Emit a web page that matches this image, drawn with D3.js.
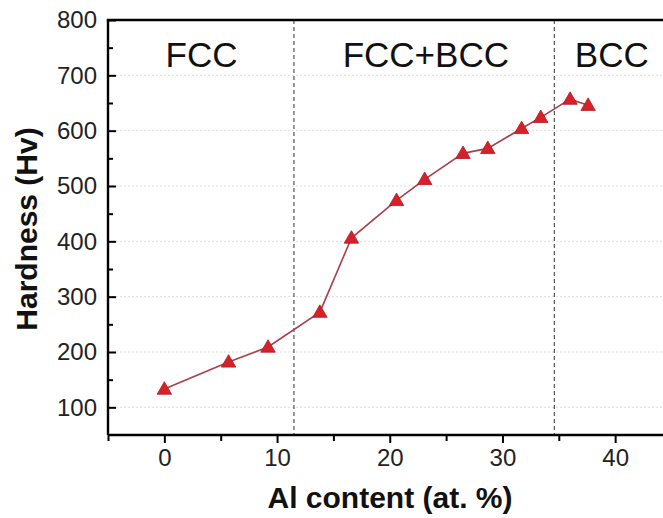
<!DOCTYPE html>
<html>
<head>
<meta charset="utf-8">
<script src="https://cdn.jsdelivr.net/npm/d3@7"></script>
<style>
  html, body { margin: 0; padding: 0; background: #fff; }
  svg { display: block; font-family: "Liberation Sans", Arial, sans-serif; }
</style>
</head>
<body>
<svg id="chart" width="663" height="518"></svg>
<script>
// ---- data ----
const alContent = [0, 5.7, 9.2, 13.8, 16.6, 20.6, 23.1, 26.5, 28.7, 31.7, 33.4, 36.0, 37.6];
const hardness  = [133, 182, 209, 272, 406, 474, 512, 559, 568, 604, 624, 657, 646];
const xMajorTicks = [0, 10, 20, 30, 40];
const xMinorTicks = [-5, 5, 15, 25, 35, 45];
const yMajorTicks = [100, 200, 300, 400, 500, 600, 700, 800];
const yMinorTicks = [150, 250, 350, 450, 550, 650, 750];
const phaseBoundaries = [11.5, 34.6];
const phaseLabels = ["FCC", "FCC+BCC", "BCC"];
const phaseLabelX = [3.3, 23.2, 39.7];
const xTitle = "Al content (at. %)";
const yTitle = "Hardness (Hv)";

// ---- layout ----
const svg = d3.select("#chart");
const mLeft = 108, mRight = 671.5, mTop = 20, mBottom = 435;
const x = d3.scaleLinear().domain([-5, 45]).range([mLeft, mRight]);
const y = d3.scaleLinear().domain([50, 800]).range([mBottom, mTop]);

// grid lines (faint dotted)
svg.append("g").selectAll("line")
  .data(yMajorTicks.filter(v => v < 800))
  .join("line")
  .attr("x1", mLeft).attr("x2", mRight)
  .attr("y1", d => y(d)).attr("y2", d => y(d))
  .attr("stroke", "#dcdcdc").attr("stroke-width", 1)
  .attr("stroke-dasharray", "2,2");

// phase boundaries
svg.append("g").selectAll("line")
  .data(phaseBoundaries)
  .join("line")
  .attr("x1", d => x(d)).attr("x2", d => x(d))
  .attr("y1", mTop).attr("y2", mBottom)
  .attr("stroke", "#333").attr("stroke-width", 1)
  .attr("stroke-dasharray", "4,3");

// phase labels
svg.append("g").selectAll("text")
  .data(phaseLabels)
  .join("text")
  .attr("x", (d, i) => x(phaseLabelX[i]))
  .attr("y", 67)
  .attr("text-anchor", "middle")
  .attr("font-size", 35)
  .attr("fill", "#111")
  .text(d => d);

// data line
const pts = alContent.map((v, i) => [v, hardness[i]]);
svg.append("path")
  .datum(pts)
  .attr("fill", "none")
  .attr("stroke", "#a8404c")
  .attr("stroke-width", 1.6)
  .attr("d", d3.line().x(d => x(d[0])).y(d => y(d[1])));

// markers
svg.append("g").selectAll("path")
  .data(pts)
  .join("path")
  .attr("transform", d => `translate(${x(d[0])},${y(d[1]) + 1})`)
  .attr("d", d3.symbol().type(d3.symbolTriangle).size(90))
  .attr("fill", "#d7202a")
  .attr("stroke", "#b01820")
  .attr("stroke-width", 0.8);

// x axis
const xAxis = svg.append("g").attr("transform", `translate(0,${mBottom})`)
  .call(d3.axisBottom(x).tickValues(xMajorTicks).tickSize(8).tickPadding(6).tickFormat(d3.format("d")));
xAxis.select(".domain").attr("stroke-width", 2.4).attr("d", `M${mLeft},0H${mRight}`);
xAxis.selectAll(".tick line").attr("stroke-width", 2);
xAxis.selectAll(".tick text").attr("font-size", 24).attr("fill", "#222");
svg.append("g").attr("transform", `translate(0,${mBottom})`)
  .call(d3.axisBottom(x).tickValues(xMinorTicks).tickSize(6).tickFormat(""))
  .call(g => g.select(".domain").remove())
  .selectAll(".tick line").attr("stroke-width", 2);

// y axis
const yAxis = svg.append("g").attr("transform", `translate(${mLeft},0)`)
  .call(d3.axisLeft(y).tickValues(yMajorTicks).tickSize(-8).tickPadding(11).tickFormat(d3.format("d")));
yAxis.select(".domain").attr("stroke-width", 2.4).attr("d", `M0,${mBottom}V${mTop}`);
yAxis.selectAll(".tick line").attr("stroke-width", 2);
yAxis.selectAll(".tick text").attr("font-size", 24).attr("fill", "#222");
svg.append("g").attr("transform", `translate(${mLeft},0)`)
  .call(d3.axisLeft(y).tickValues(yMinorTicks).tickSize(-5).tickFormat(""))
  .call(g => g.select(".domain").remove())
  .selectAll(".tick line").attr("stroke-width", 2);

// top frame
svg.append("line")
  .attr("x1", mLeft - 1.2).attr("x2", mRight)
  .attr("y1", mTop).attr("y2", mTop)
  .attr("stroke", "#000").attr("stroke-width", 2.4);

// axis titles
svg.append("text")
  .attr("x", 390)
  .attr("y", 508)
  .attr("text-anchor", "middle")
  .attr("font-size", 30).attr("font-weight", "bold").attr("fill", "#111")
  .text(xTitle);

svg.append("text")
  .attr("transform", `translate(37,229) rotate(-90)`)
  .attr("text-anchor", "middle")
  .attr("font-size", 30).attr("font-weight", "bold").attr("fill", "#111")
  .text(yTitle);
</script>
</body>
</html>
